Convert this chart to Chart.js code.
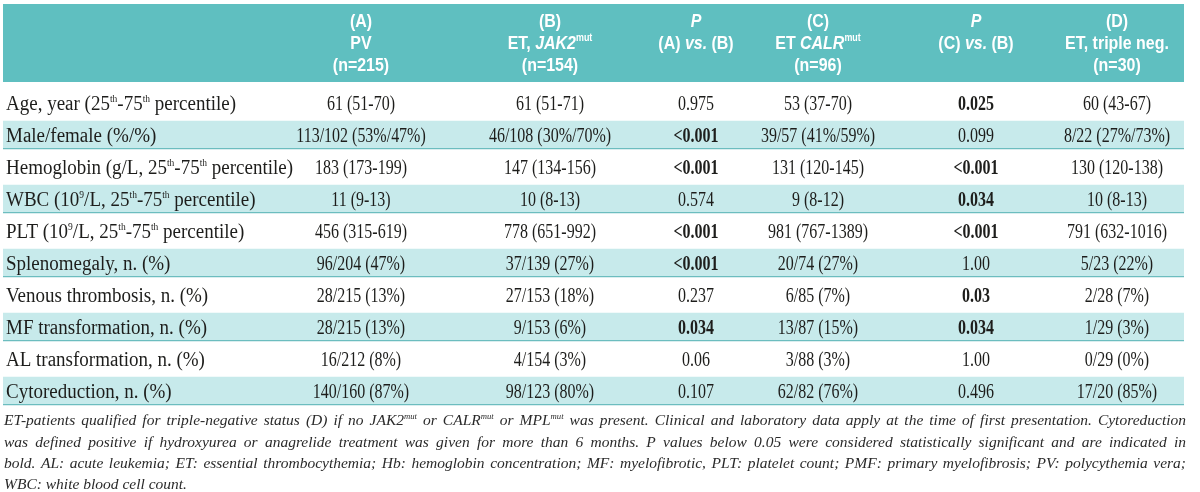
<!DOCTYPE html>
<html>
<head>
<meta charset="utf-8">
<script src="https://cdn.jsdelivr.net/npm/chart.js@4/dist/chart.umd.min.js"></script>
<style>
  html, body { margin: 0; padding: 0; background: #fff; }
  canvas { display: block; }
</style>
</head>
<body>
<canvas id="table" width="1200" height="492"></canvas>
<script>
// table content
const rowLabels = [
    'Age, year (25<sup>th</sup>-75<sup>th</sup> percentile)',
    'Male/female (%/%)',
    'Hemoglobin (g/L, 25<sup>th</sup>-75<sup>th</sup> percentile)',
    'WBC (10<sup>9</sup>/L, 25<sup>th</sup>-75<sup>th</sup> percentile)',
    'PLT (10<sup>9</sup>/L, 25<sup>th</sup>-75<sup>th</sup> percentile)',
    'Splenomegaly, n. (%)',
    'Venous thrombosis, n. (%)',
    'MF transformation, n. (%)',
    'AL transformation, n. (%)',
    'Cytoreduction, n. (%)'
];
const groupA = ['61 (51-70)', '113/102 (53%/47%)', '183 (173-199)', '11 (9-13)', '456 (315-619)',
    '96/204 (47%)', '28/215 (13%)', '28/215 (13%)', '16/212 (8%)', '140/160 (87%)'];
const groupB = ['61 (51-71)', '46/108 (30%/70%)', '147 (134-156)', '10 (8-13)', '778 (651-992)',
    '37/139 (27%)', '27/153 (18%)', '9/153 (6%)', '4/154 (3%)', '98/123 (80%)'];
const pAvsB = ['0.975', '<0.001', '<0.001', '0.574', '<0.001', '<0.001', '0.237', '0.034', '0.06', '0.107'];
const groupC = ['53 (37-70)', '39/57 (41%/59%)', '131 (120-145)', '9 (8-12)', '981 (767-1389)',
    '20/74 (27%)', '6/85 (7%)', '13/87 (15%)', '3/88 (3%)', '62/82 (76%)'];
const pCvsB = ['0.025', '0.099', '<0.001', '0.034', '<0.001', '1.00', '0.03', '0.034', '1.00', '0.496'];
const groupD = ['60 (43-67)', '8/22 (27%/73%)', '130 (120-138)', '10 (8-13)', '791 (632-1016)',
    '5/23 (22%)', '2/28 (7%)', '1/29 (3%)', '0/29 (0%)', '17/20 (85%)'];

const headA = ['(A)', 'PV', '(n=215)'];
const headB = ['(B)', 'ET, <i>JAK2</i><sup>mut</sup>', '(n=154)'];
const headPAB = ['<i>P</i>', '(A) <i>vs.</i> (B)'];
const headC = ['(C)', 'ET <i>CALR</i><sup>mut</sup>', '(n=96)'];
const headPCB = ['<i>P</i>', '(C) <i>vs.</i> (B)'];
const headD = ['(D)', 'ET, triple neg.', '(n=30)'];

const footnote = [
    'ET-patients qualified for triple-negative status (D) if no JAK2<sup>mut</sup> or CALR<sup>mut</sup> or MPL<sup>mut</sup> was present. Clinical and laboratory data apply at the time of first presentation. Cytoreduction',
    'was defined positive if hydroxyurea or anagrelide treatment was given for more than 6 months. P values below 0.05 were considered statistically significant and are indicated in',
    'bold. AL: acute leukemia; ET: essential thrombocythemia; Hb: hemoglobin concentration; MF: myelofibrotic, PLT: platelet count; PMF: primary myelofibrosis; PV: polycythemia vera;',
    'WBC: white blood cell count.'
];

// layout (x scale runs 0..1200 across the canvas)
const TABLE_LEFT = 3, TABLE_RIGHT = 1184;
const columns = [
    { x: 361, head: headA, cells: groupA },
    { x: 550, head: headB, cells: groupB },
    { x: 696, head: headPAB, cells: pAvsB, pval: true },
    { x: 818, head: headC, cells: groupC },
    { x: 976, head: headPCB, cells: pCvsB, pval: true },
    { x: 1117, head: headD, cells: groupD }
];
const labelFont = { family: '"Liberation Serif", serif', size: 20, sx: 0.95, sup: 0.5 };
const valueFont = { family: '"Liberation Serif", serif', size: 20.5, sx: 0.78 };
const headFont = { family: '"Liberation Sans", Arial, sans-serif', size: 19, bold: true, sx: 0.84 };
const noteFont = { family: '"Liberation Serif", serif', size: 15.5, italic: true };

const isSignificant = v => v.startsWith('<') || parseFloat(v) < 0.05;

// tiny markup: <i>, <b>, <sup>
function parseRich(str) {
    const segs = [];
    let st = { i: false, b: false, sup: false };
    str.split(/(<\/?(?:i|b|sup)>)/).forEach(p => {
        if (!p) return;
        const m = p.match(/^<(\/?)(i|b|sup)>$/);
        if (m) { st = Object.assign({}, st, { [m[2]]: !m[1] }); return; }
        segs.push(Object.assign({ text: p }, st));
    });
    return segs;
}
function segFont(seg, base) {
    const size = seg.sup ? base.size * (base.sup || 0.56) : base.size;
    return (seg.i || base.italic ? 'italic ' : '') + (seg.b || base.bold ? 'bold ' : '') + size + 'px ' + base.family;
}
function drawRich(ctx, segs, x, y, align, base) {
    let total = 0;
    segs.forEach(s => { ctx.font = segFont(s, base); s.w = ctx.measureText(s.text).width; total += s.w; });
    ctx.save();
    ctx.translate(x, y);
    ctx.scale(base.sx || 1, 1);
    ctx.textAlign = 'left';
    ctx.textBaseline = 'alphabetic';
    let cx = align === 'center' ? -total / 2 : 0;
    segs.forEach(s => {
        ctx.font = segFont(s, base);
        ctx.fillText(s.text, cx, s.sup ? -base.size * 0.4 : 0);
        cx += s.w;
    });
    ctx.restore();
}
function drawJustified(ctx, str, x0, x1, y, base, justify) {
    const pieces = [];
    parseRich(str).forEach(s => s.text.split(/( )/).forEach(t => {
        if (t) pieces.push({ text: t, seg: s, space: t === ' ' });
    }));
    let wordsW = 0, spaces = 0;
    pieces.forEach(p => {
        if (p.space) { spaces++; return; }
        ctx.font = segFont(p.seg, base);
        p.w = ctx.measureText(p.text).width;
        wordsW += p.w;
    });
    ctx.font = segFont({}, base);
    const natural = ctx.measureText(' ').width;
    let gap = natural, scale = 1;
    if (justify) {
        gap = (x1 - x0 - wordsW) / spaces;
        if (gap < natural * 0.6) {
            gap = natural * 0.6;
            scale = (x1 - x0) / (wordsW + spaces * gap);
        }
    }
    ctx.save();
    ctx.translate(x0, y);
    ctx.scale(scale, 1);
    ctx.textAlign = 'left';
    ctx.textBaseline = 'alphabetic';
    let cx = 0;
    pieces.forEach(p => {
        if (p.space) { cx += gap; return; }
        ctx.font = segFont(p.seg, base);
        ctx.fillText(p.text, cx, p.seg.sup ? -base.size * 0.4 : 0);
        cx += p.w;
    });
    ctx.restore();
}

const tablePlugin = {
    id: 'tableText',
    beforeDatasetsDraw(chart) {
        const ctx = chart.ctx, x = chart.scales.x;
        // header band
        ctx.save();
        ctx.fillStyle = '#5fbfc0';
        ctx.fillRect(x.getPixelForValue(TABLE_LEFT), 4,
            x.getPixelForValue(TABLE_RIGHT) - x.getPixelForValue(TABLE_LEFT), 78);
        ctx.restore();
    },
    afterDatasetsDraw(chart) {
        const ctx = chart.ctx, x = chart.scales.x, y = chart.scales.y;
        ctx.save();
        // header text
        ctx.fillStyle = '#ffffff';
        const headBase = [27, 49, 71];
        columns.forEach(col => {
            col.head.forEach((line, k) =>
                drawRich(ctx, parseRich(line), x.getPixelForValue(col.x), headBase[k], 'center', headFont));
        });
        // body
        ctx.fillStyle = '#1d1d1b';
        rowLabels.forEach((label, i) => {
            const yb = y.getPixelForValue(i) + 6.5;
            drawRich(ctx, parseRich(label), x.getPixelForValue(6), yb, 'left', labelFont);
            columns.forEach(col => {
                const v = col.cells[i];
                const bold = col.pval && isSignificant(v);
                drawRich(ctx, [{ text: v, b: bold }], x.getPixelForValue(col.x), yb, 'center', valueFont);
            });
        });
        // footnote
        ctx.fillStyle = '#2a2a2a';
        const noteBase = [425, 447, 468, 489];
        footnote.forEach((line, k) => drawJustified(ctx, line, x.getPixelForValue(4), x.getPixelForValue(1186),
            noteBase[k], noteFont, k < footnote.length - 1));
        ctx.restore();
    }
};

new Chart(document.getElementById('table'), {
    type: 'bar',
    data: {
        labels: rowLabels,
        datasets: [{
            label: 'stripes',
            data: rowLabels.map((_, i) => i % 2 ? [TABLE_LEFT, TABLE_RIGHT] : null),
            backgroundColor: '#c7eaeb',
            borderColor: '#6cbdbf',
            borderWidth: { top: 0, left: 0, right: 0, bottom: 1.5 },
            borderSkipped: false,
            barPercentage: 0.9,
            categoryPercentage: 1
        }]
    },
    options: {
        indexAxis: 'y',
        responsive: false,
        animation: false,
        devicePixelRatio: 1,
        layout: { padding: { top: 87, bottom: 85, left: 0, right: 0 } },
        plugins: { legend: { display: false }, tooltip: { enabled: false } },
        scales: {
            x: { type: 'linear', min: 0, max: 1200, display: false },
            y: { type: 'category', display: false, grid: { display: false } }
        }
    },
    plugins: [tablePlugin]
});
</script>
</body>
</html>
